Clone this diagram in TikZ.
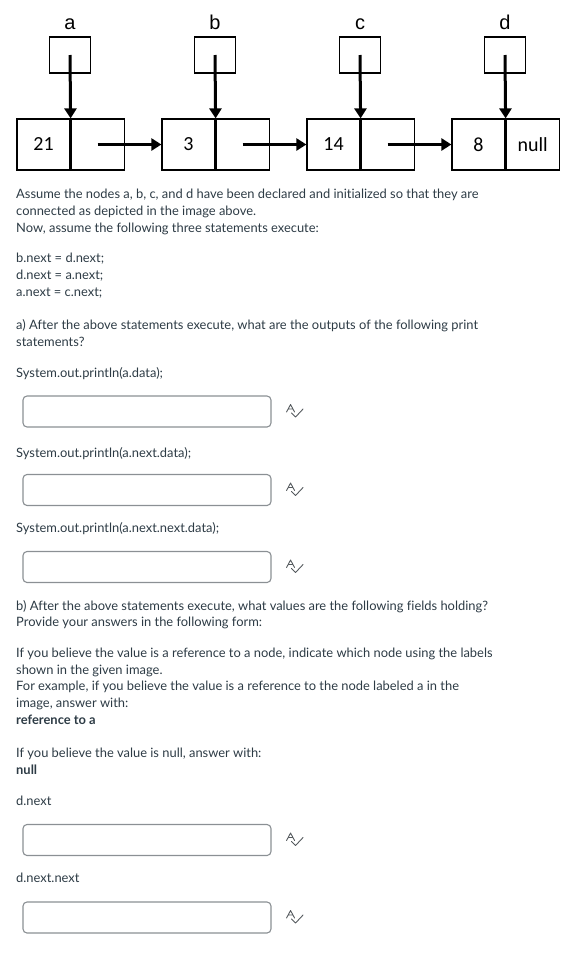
\documentclass[tikz,border=0pt]{standalone}
\usepackage{fontspec}
\setmainfont{Lato}[Ligatures=NoCommon]
\newfontfamily\labelfont{Liberation Sans}
\newfontfamily\cellfont{Carlito}
\usetikzlibrary{arrows.meta}

\definecolor{ink}{HTML}{2D3B45}
\definecolor{boxgray}{HTML}{8B9094}
\definecolor{icongray}{HTML}{555A5E}

\tikzset{
    cell/.style={draw, line width=1.2pt, minimum width=53pt, minimum height=51pt, inner sep=0pt, font=\cellfont\fontsize{20}{20}\selectfont},
    ptr/.style={draw, line width=1.2pt, minimum width=41pt, minimum height=36pt, inner sep=0pt},
    link/.style={line width=3pt, -{Triangle[width=12pt,length=10pt]}},
    txt/.style={anchor=base west, inner sep=0pt, align=left, text=ink, font=\fontsize{12.9}{16.7}\selectfont},
    answer/.style={draw=boxgray, line width=1.1pt, rounded corners=4pt, minimum width=248pt, minimum height=31pt, inner sep=0pt},
    spell/.pic={
        \draw[icongray, line width=0.9pt, line cap=round, line join=round]
            (-7,0.5) -- (-3,-7) -- (1,0.5) (-5.3,-2.5) -- (-0.7,-2.5)
            (-2,1.5) -- (2,5.5) -- (9.5,-2.5);
    }
}

\begin{document}
\begin{tikzpicture}[x=1pt,y=-1pt]

\useasboundingbox (0,0) rectangle (588,967);

% list nodes and their pointers
\foreach \val/\lbl/\nxt [count=\i from 0] in {21/a/{},3/b/{},14/c/{},8/d/null}
{
    \node[cell] (d\i) at (43.5+145*\i,144.5) {\val};
    \node[cell, anchor=west] (n\i) at (d\i.east) {\nxt};
    \node[ptr] (p\i) at (70+145*\i,55) {};
    \node[font=\labelfont\fontsize{20}{20}\selectfont, anchor=base, inner sep=0pt] (l\i) at (70+145*\i,29) {\lbl};
    \draw[link] (p\i.center) -- (d\i.north east);
}
\foreach \i/\j in {0/1,1/2,2/3}
    \draw[link] (n\i.center) -- (d\j.west);

% question text (placed at the baseline of the last line)
\node[txt] (intro) at (16,232) {Assume the nodes a, b, c, and d have been declared and initialized so that they are\\connected as depicted in the image above.\\Now, assume the following three statements execute:};
\node[txt] (stmts) at (16,296) {b.next = d.next;\\d.next = a.next;\\a.next = c.next;};
\node[txt] (parta) at (16,346) {a) After the above statements execute, what are the outputs of the following print\\statements?};
\node[txt] (qa1) at (16,377) {System.out.println(a.data);};
\node[txt] (qa2) at (16,457.5) {System.out.println(a.next.data);};
\node[txt] (qa3) at (16,532) {System.out.println(a.next.next.data);};
\node[txt] (partb) at (16,626.7) {b) After the above statements execute, what values are the following fields holding?\\Provide your answers in the following form:};
\node[txt] (hintref) at (16,724.3) {If you believe the value is a reference to a node, indicate which node using the labels\\shown in the given image.\\For example, if you believe the value is a reference to the node labeled a in the\\image, answer with:\\\textbf{reference to a}};
\node[txt] (hintnull) at (16,774) {If you believe the value is null, answer with:\\\textbf{null}};
\node[txt] (qb1) at (16,805) {d.next};
\node[txt] (qb2) at (16,882.7) {d.next.next};

% answer fields
\foreach \yy [count=\k] in {411.5,490,567,840,917.5}
{
    \node[answer] (ans\k) at (147,\yy) {};
    \pic at ([xshift=22pt]ans\k.east) {spell};
}

\end{tikzpicture}
\end{document}
